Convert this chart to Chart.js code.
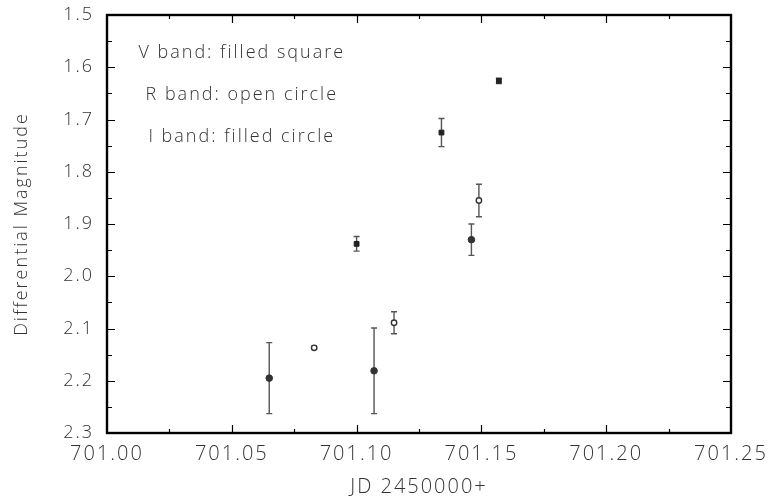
<!DOCTYPE html>
<html>
<head>
<meta charset="utf-8">
<script src="https://cdn.jsdelivr.net/npm/chart.js@4/dist/chart.umd.min.js"></script>
<style>
  body { margin: 0; background: #fff; }
  #wrap { width: 769px; height: 499px; }
</style>
</head>
<body>
<div id="wrap"><canvas id="chart" width="769" height="499"></canvas></div>
<script>
// V band (filled square)
const vJD  = [701.100, 701.134, 701.157];
const vMag = [1.938, 1.725, 1.626];
const vErr = [0.014, 0.027, 0.005];

// R band (open circle)
const rJD  = [701.083, 701.115, 701.149];
const rMag = [2.137, 2.089, 1.855];
const rErr = [0.003, 0.021, 0.031];

// I band (filled circle)
const iJD  = [701.065, 701.107, 701.146];
const iMag = [2.195, 2.181, 1.930];
const iErr = [0.068, 0.082, 0.030];

const notes = ["V band: filled square", "R band: open circle", "I band: filled circle"];

const FONT = "'Open Sans', 'DejaVu Sans', sans-serif";
const TEXT = "#333";
const SPACING = "2px";

function pts(xs, ys, es) {
  return xs.map((x, k) => ({ x: x, y: ys[k], err: es[k] }));
}

// error bars, frame and inward ticks
const extras = {
  id: "extras",
  beforeDraw(chart) {
    // wide letter spacing like the original plot font (draw time only)
    chart.ctx.letterSpacing = SPACING;
  },
  beforeDatasetsDraw(chart) {
    const ctx = chart.ctx;
    const xs = chart.scales.x, ys = chart.scales.y;
    ctx.save();
    ctx.strokeStyle = "#555";
    ctx.lineWidth = 1.4;
    chart.data.datasets.forEach(ds => {
      ds.data.forEach(p => {
        const px = xs.getPixelForValue(p.x);
        const y1 = ys.getPixelForValue(p.y - p.err);
        const y2 = ys.getPixelForValue(p.y + p.err);
        ctx.beginPath();
        ctx.moveTo(px, y1); ctx.lineTo(px, y2);
        ctx.moveTo(px - 3, y1); ctx.lineTo(px + 3, y1);
        ctx.moveTo(px - 3, y2); ctx.lineTo(px + 3, y2);
        ctx.stroke();
      });
    });
    ctx.restore();
  },
  afterDraw(chart) {
    const ctx = chart.ctx;
    const a = chart.chartArea;
    const xs = chart.scales.x, ys = chart.scales.y;
    ctx.save();
    ctx.strokeStyle = "#000";
    ctx.lineWidth = 1.2;
    ctx.beginPath();
    const xStep = 0.025;
    for (let v = xs.min; v <= xs.max + 1e-9; v += xStep) {
      const k = Math.round((v - xs.min) / xStep);
      if (k === 0 || v > xs.max - 1e-9) continue;
      const px = Math.round(xs.getPixelForValue(v)) + 0.5;
      const len = k % 2 === 0 ? 8 : 4;
      ctx.moveTo(px, a.bottom); ctx.lineTo(px, a.bottom - len);
      ctx.moveTo(px, a.top); ctx.lineTo(px, a.top + len);
    }
    const yStep = 0.05;
    for (let v = ys.min; v <= ys.max + 1e-9; v += yStep) {
      const k = Math.round((v - ys.min) / yStep);
      if (k === 0 || v > ys.max - 1e-9) continue;
      const py = Math.round(ys.getPixelForValue(v)) + 0.5;
      const len = k % 2 === 0 ? 8 : 5;
      ctx.moveTo(a.left, py); ctx.lineTo(a.left + len, py);
      ctx.moveTo(a.right, py); ctx.lineTo(a.right - len, py);
    }
    ctx.stroke();
    ctx.lineWidth = 2.4;
    ctx.strokeRect(a.left, a.top, a.right - a.left, a.bottom - a.top);

    // legend notes inside the plot
    ctx.fillStyle = TEXT;
    ctx.font = "300 18px " + FONT;
    ctx.letterSpacing = SPACING;
    ctx.textAlign = "center";
    ctx.textBaseline = "middle";
    const nx = xs.getPixelForValue(701.054);
    notes.forEach((t, k) => {
      ctx.fillText(t, nx, ys.getPixelForValue(1.572 + k * 0.081));
    });
    ctx.restore();
  }
};

new Chart(document.getElementById("chart"), {
  type: "scatter",
  data: {
    datasets: [
      {
        label: "V",
        data: pts(vJD, vMag, vErr),
        pointStyle: "rect",
        pointRadius: 3.4,
        backgroundColor: "#222",
        borderColor: "#222",
        borderWidth: 1
      },
      {
        label: "R",
        data: pts(rJD, rMag, rErr),
        pointStyle: "circle",
        pointRadius: 2.7,
        backgroundColor: "#fff",
        borderColor: "#333",
        borderWidth: 1.4
      },
      {
        label: "I",
        data: pts(iJD, iMag, iErr),
        pointStyle: "circle",
        pointRadius: 3.3,
        backgroundColor: "#333",
        borderColor: "#333",
        borderWidth: 1
      }
    ]
  },
  options: {
    responsive: false,
    animation: false,
    layout: { padding: { top: 15, right: 38, left: 0, bottom: 0 } },
    plugins: {
      legend: { display: false },
      tooltip: { enabled: false }
    },
    scales: {
      x: {
        type: "linear",
        min: 701.00,
        max: 701.25,
        afterFit(s) {
          s.height = 66;
          s.paddingLeft = 0;
          s.paddingRight = 0;
        },
        grid: { display: false, drawTicks: false },
        border: { display: false },
        ticks: {
          stepSize: 0.05,
          padding: 9,
          color: TEXT,
          font: { family: FONT, size: 20, weight: 300 },
          callback: v => v.toFixed(2)
        },
        title: {
          display: true,
          text: "JD 2450000+",
          color: TEXT,
          font: { family: FONT, size: 20, weight: 300 },
          padding: { top: 0, bottom: 0 }
        }
      },
      y: {
        type: "linear",
        reverse: true,
        min: 1.5,
        max: 2.3,
        afterFit(s) {
          s.width = 107;
          s.paddingTop = 0;
          s.paddingBottom = 0;
        },
        grid: { display: false, drawTicks: false },
        border: { display: false },
        ticks: {
          stepSize: 0.1,
          padding: 13,
          color: TEXT,
          font: { family: FONT, size: 18, weight: 300 },
          callback: v => v.toFixed(1)
        },
        title: {
          display: true,
          text: "Differential Magnitude",
          color: TEXT,
          font: { family: FONT, size: 18, weight: 300 },
          padding: { top: 11, bottom: 0 }
        }
      }
    }
  },
  plugins: [extras]
});
</script>
</body>
</html>
